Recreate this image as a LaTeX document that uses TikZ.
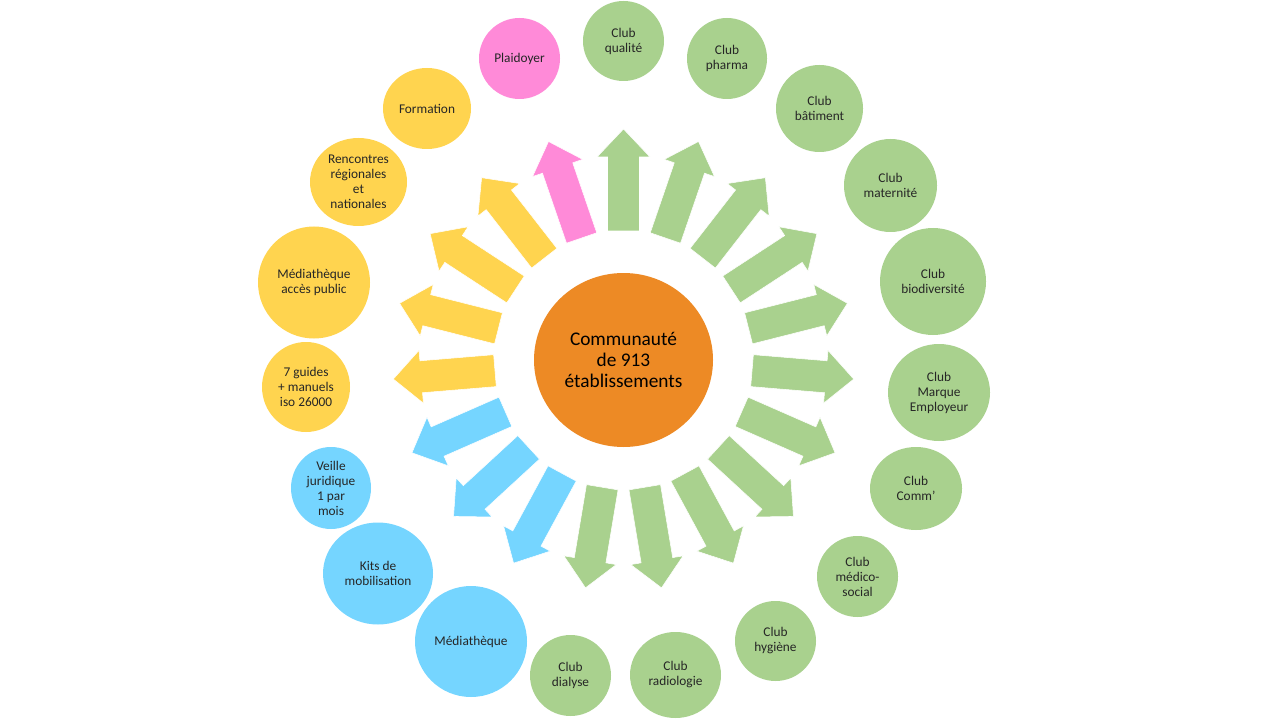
\documentclass[tikz,border=0pt]{standalone}
\usepackage{fontspec}
\setmainfont{Carlito}
\usetikzlibrary{shapes.geometric}
\definecolor{cgreen}{HTML}{A9D18E}
\definecolor{cblue}{HTML}{75D5FF}
\definecolor{cyellow}{HTML}{FFD44F}
\definecolor{cpink}{HTML}{FF8AD8}
\definecolor{corange}{HTML}{ED8A25}
\definecolor{ctext}{HTML}{262626}
\newcommand\bub[7]{\node[bubble, fill=#6, minimum width=#4*1.5pt, minimum height=#5*1.5pt] (#1) at (#2,#3) {#7};}
\begin{document}
\begin{tikzpicture}[x=0.75pt,y=-0.75pt,
  bubble/.style={ellipse, inner sep=0pt, align=center, text=ctext, font=\fontsize{10}{11.25}\selectfont},
  arrowshape/.style={draw=white, line width=0.4pt, line join=miter}]
\fill[white] (0,0) rectangle (1280,720);
\useasboundingbox (0,0) rectangle (1280,720);
% radial block arrows
\foreach \i in {0,...,18} {
  \pgfmathsetmacro\ang{90-\i*360/19}
  \ifnum\i<11 \def\col{cgreen}\else\ifnum\i<14 \def\col{cblue}\else\ifnum\i<18 \def\col{cyellow}\else\def\col{cpink}\fi\fi\fi
  \begin{scope}[shift={(623.5,360)}, rotate=\ang]
    \fill[\col, arrowshape] (129,-16) -- (203,-16) -- (203,-26.5) -- (231,0) -- (203,26.5) -- (203,16) -- (129,16) -- cycle;
  \end{scope}
}
% centre
\node[ellipse, fill=corange, inner sep=0pt, minimum width=179*0.75pt, minimum height=174*0.75pt,
  align=center, text=black, font=\fontsize{14.5}{16}\selectfont] (centre) at (623.5,360) {Communauté\\de 913\\établissements};
% outer bubbles
\bub{plaid}{519.5}{58.5}{40.5}{40.5}{cpink}{Plaidoyer}
\bub{qual}{623.5}{41}{40.5}{40}{cgreen}{Club\\qualité}
\bub{pharma}{727}{58.5}{40}{40.5}{cgreen}{Club\\pharma}
\bub{bat}{819.5}{108.5}{43.5}{43.5}{cgreen}{Club\\bâtiment}
\bub{mat}{890.5}{185.5}{46.5}{46.5}{cgreen}{Club\\maternité}
\bub{bio}{933}{281.5}{53}{53.5}{cgreen}{Club\\biodiversité}
\bub{marque}{939}{392.5}{51}{48.5}{cgreen}{Club\\Marque\\Employeur}
\bub{comm}{916}{488.5}{46}{41.5}{cgreen}{Club\\Comm’}
\bub{medico}{857.5}{576.5}{40.5}{40.5}{cgreen}{Club\\médico-\\social}
\bub{hyg}{775.5}{641}{40.5}{40}{cgreen}{Club\\hygiène}
\bub{radio}{675.5}{675}{45.5}{43}{cgreen}{Club\\radiologie}
\bub{dial}{570.5}{675.5}{40.5}{40.5}{cgreen}{Club\\dialyse}
\bub{media}{471}{641.5}{56}{55.5}{cblue}{Médiathèque}
\bub{kits}{378}{573.5}{55}{51}{cblue}{Kits de\\mobilisation}
\bub{veille}{331}{488}{40}{41}{cblue}{Veille\\juridique\\1 par\\mois}
\bub{guides}{306}{387}{44}{45}{cyellow}{7 guides\\+ manuels\\iso 26000}
\bub{mediapub}{314}{282.5}{56}{56}{cyellow}{Médiathèque\\accès public}
\bub{renc}{358.5}{182}{48.5}{44}{cyellow}{Rencontres\\régionales\\et\\nationales}
\bub{form}{427}{108.5}{44}{40.5}{cyellow}{Formation}
\end{tikzpicture}
\end{document}
